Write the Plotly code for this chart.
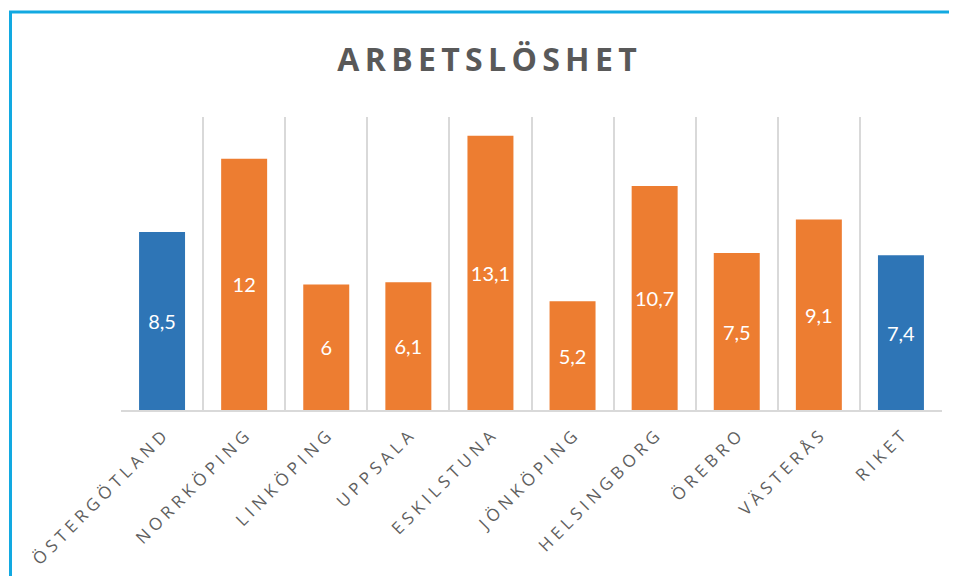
import plotly.graph_objects as go

categories = ["ÖSTERGÖTLAND", "NORRKÖPING", "LINKÖPING", "UPPSALA", "ESKILSTUNA",
              "JÖNKÖPING", "HELSINGBORG", "ÖREBRO", "VÄSTERÅS", "RIKET"]
values = [8.5, 12, 6, 6.1, 13.1, 5.2, 10.7, 7.5, 9.1, 7.4]
value_labels = ["8,5", "12", "6", "6,1", "13,1", "5,2", "10,7", "7,5", "9,1", "7,4"]
highlight = ["ÖSTERGÖTLAND", "RIKET"]
title_text = "ARBETSLÖSHET"

BLUE = "#2e75b6"
ORANGE = "#ed7d31"

def spaced(s, sep="\u2009"):
    return sep.join(list(s))

colors = [BLUE if c in highlight else ORANGE for c in categories]
tick_text = [spaced(c, "\u2009\u200a") for c in categories]

# page is offset by 8px body margin
W, H = 949, 568
L, R, T, B = 113, 15, 109, 166
pw = W - L - R
ph = H - T - B

fig = go.Figure(go.Bar(
    x=categories, y=values,
    marker=dict(color=colors, line=dict(width=0)),
    text=value_labels, textposition="inside", insidetextanchor="middle",
    textfont=dict(family="Lato", size=20, color="white"),
    textangle=0,
    width=0.56,
))

fig.update_layout(
    width=W, height=H,
    margin=dict(l=L, r=R, t=T, b=B, autoexpand=False),
    paper_bgcolor="white", plot_bgcolor="white",
    showlegend=False,
    title=dict(text=spaced(title_text, "\u2009"), x=(487 - 8 - L) / pw, xref="paper", xanchor="center",
               y=1 - 52 / H, yref="container", yanchor="middle",
               font=dict(family="Open Sans", size=32, color="#595959", weight="bold")),
    xaxis=dict(
        type="category", tickson="boundaries", automargin=False,
        showgrid=True, gridcolor="#d9d9d9", gridwidth=2,
        ticks="", showline=True, linecolor="#d9d9d9", linewidth=2,
        tickangle=-45, tickvals=categories, ticktext=tick_text,
        tickfont=dict(family="Open Sans", size=17, color="#5f5f5f"),
        ticklabelstandoff=8,
        range=[-0.5, 9.5],
    ),
    yaxis=dict(range=[0, 14], showgrid=False, showticklabels=False, zeroline=False,
               showline=False, ticks="", automargin=False),
    shapes=[
        dict(type="line", xref="paper", yref="paper",
             x0=(2.5 - L) / pw, x1=(2.5 - L) / pw,
             y0=(ph + T - 4) / ph, y1=-0.7,
             line=dict(color="#12a9e1", width=3)),
        dict(type="line", xref="paper", yref="paper",
             x0=(1 - L) / pw, x1=1.1,
             y0=(ph + T - 4) / ph, y1=(ph + T - 4) / ph,
             line=dict(color="#12a9e1", width=3)),
    ],
)

fig.write_html("out.html")
